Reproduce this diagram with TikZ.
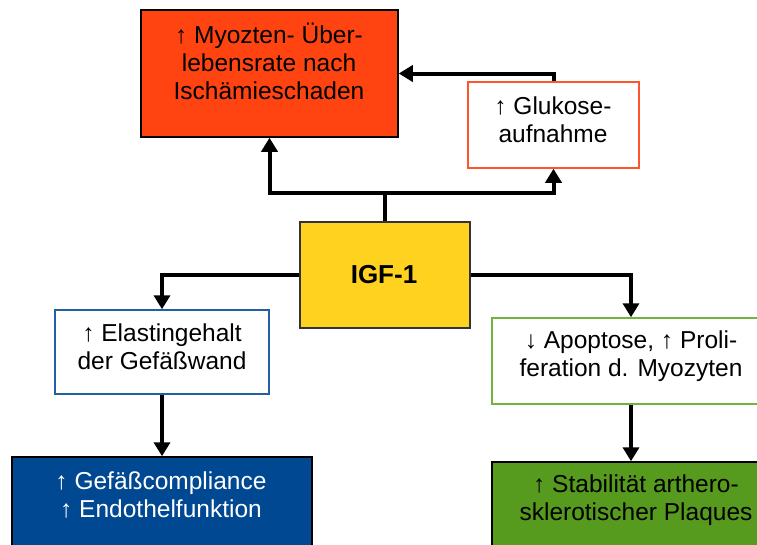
\documentclass[tikz,border=0pt]{standalone}
\usepackage{fontspec}
\setmainfont{Liberation Sans}
\usetikzlibrary{arrows.meta}
\definecolor{survfill}{RGB}{255,68,17}
\definecolor{igffill}{RGB}{255,210,32}
\definecolor{compfill}{RGB}{0,72,145}
\definecolor{stabfill}{RGB}{86,155,30}
\definecolor{orangeline}{RGB}{255,85,45}
\definecolor{blueline}{RGB}{35,95,165}
\definecolor{greenline}{RGB}{112,180,62}
\tikzset{
  box/.style={draw, rectangle, line width=1.5pt, inner sep=0pt},
  txt/.style={align=center, inner sep=0pt, font=\fontsize{24.5}{28}\selectfont},
  conn/.style={line width=4pt, line cap=butt},
  arr/.style={conn, -{Triangle[length=14pt,width=16pt]}}
}
\begin{document}
\begin{tikzpicture}[x=1pt,y=-1pt]
\useasboundingbox (0,0) rectangle (757,544);
\clip (0,0) rectangle (757,544);
% boxes
\node[box, fill=survfill, draw=black, minimum width=257pt, minimum height=127pt] (surv) at (269.5,73.5) {};
\node[box, fill=white, draw=orangeline, minimum width=171pt, minimum height=86pt] (gluc) at (553.5,125) {};
\node[box, fill=igffill, draw=black!80, minimum width=170pt, minimum height=106pt] (igf) at (385,275) {};
\node[box, fill=white, draw=blueline, minimum width=214pt, minimum height=84pt] (elast) at (162,352) {};
\node[box, fill=white, draw=greenline, minimum width=278pt, minimum height=86pt] (apop) at (631,361) {};
\node[box, fill=compfill, draw=black, minimum width=300pt, minimum height=118pt] (comp) at (162,516) {};
\node[box, fill=stabfill, draw=black, minimum width=288pt, minimum height=118pt] (stab) at (636,521) {};
% texts
\node[txt] (survt) at (269,61) {↑ Myozten- Über-\\lebensrate nach\\Ischämieschaden};
\node[txt] (gluct) at (553,120) {↑ Glukose-\\aufnahme};
\node[txt, font=\bfseries\fontsize{26}{30}\selectfont] (igft) at (384,275) {IGF-1};
\node[txt] (elastt) at (162,347) {↑ Elastingehalt\\der Gefäßwand};
\node[txt] (apopt) at (631,356) {↓ Apoptose, ↑ Proli-\\feration d. Myozyten};
\node[txt, text=white] (compt) at (161,495) {↑ Gefäßcompliance\\↑ Endothelfunktion};
\node[txt] (stabt) at (636,500) {↑ Stabilität arthero-\\sklerotischer Plaques};
% connectors
\coordinate (j) at (385,193);
\draw[conn] (igf.north) -- (j);
\draw[arr] ([xshift=2pt]j) -| (surv.south);
\draw[arr] ([xshift=-2pt]j) -| (gluc.south);
\draw[arr] (gluc.north) |- (surv.east);
\draw[arr] (igf.west) -| (elast.north);
\draw[arr] (igf.east) -| (apop.north);
\draw[arr] (elast.south) -- (comp.north);
\draw[arr] (apop.south) -- (apop.south |- stab.north);
\end{tikzpicture}
\end{document}
